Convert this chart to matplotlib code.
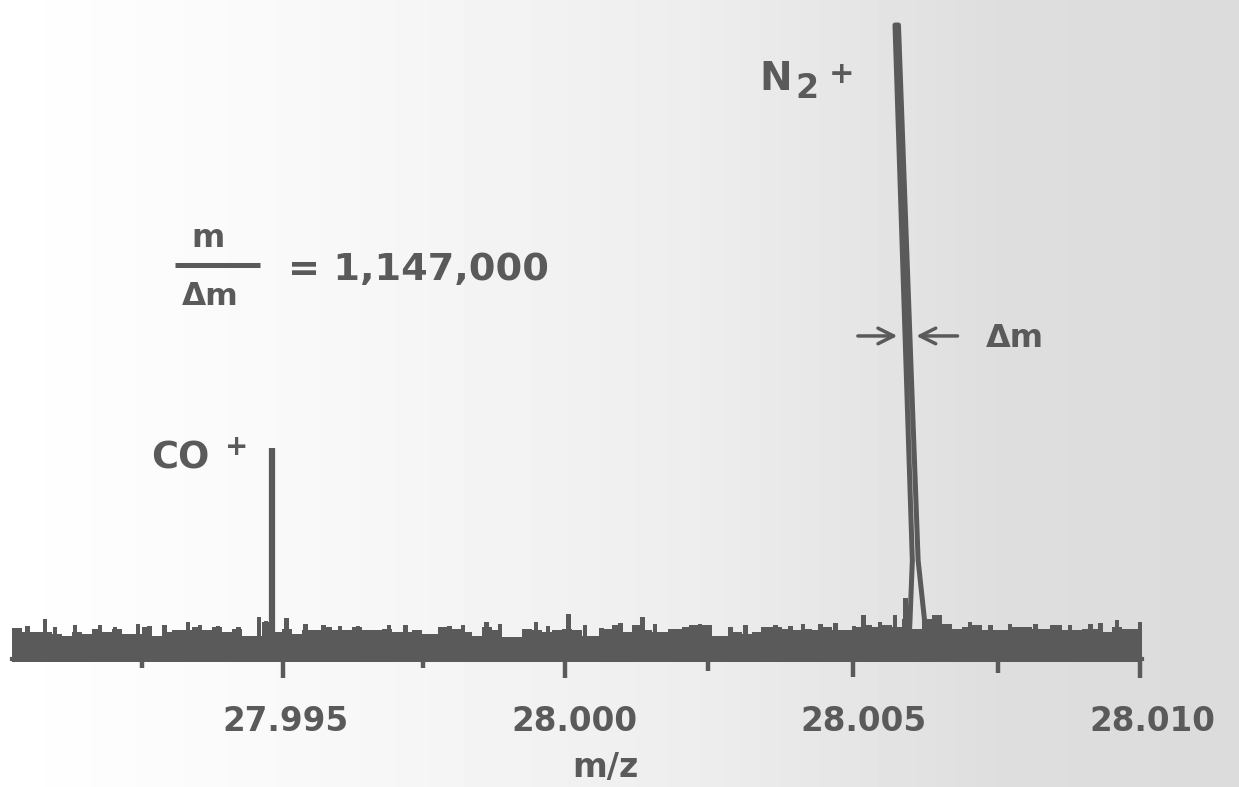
import numpy as np
import matplotlib
matplotlib.use("Agg")
import matplotlib.pyplot as plt

plt.rcParams["font.family"] = "DejaVu Sans"
plt.rcParams["font.weight"] = "bold"

INK = "#5a5a5a"

# m/z tick positions
tick_vals = [27.995, 28.000, 28.005, 28.010]
tick_labels = ["27.995", "28.000", "28.005", "28.010"]

# noise band: tops of the baseline noise (N2+ peak = 100), one value per grid cell
band_start = 27.99028
band_step = 0.000173
band = [4.6, 3.9, 3.9, 3.9, 3.6, 3.4, 3.9, 3.6, 4.4, 3.9,
        4.4, 3.6, 3.6, 4.7, 3.4, 3.9, 4.2, 4.2, 4.7, 4.2,
        4.7, 3.9, 4.4, 3.4, 3.4, 5.5, 3.9, 4.4, 3.6, 4.2,
        4.2, 4.7, 4.2, 4.2, 4.7, 4.2, 4.2, 4.4, 3.9, 3.9,
        4.2, 3.6, 3.6, 4.7, 4.4, 3.9, 3.4, 4.7, 4.2, 3.1,
        3.1, 4.4, 4.2, 3.9, 4.2, 4.4, 4.2, 3.4, 3.4, 4.4,
        5.0, 3.9, 5.0, 4.2, 3.9, 3.9, 4.4, 4.7, 5.0, 5.0,
        3.4, 3.4, 3.9, 3.6, 3.9, 4.7, 4.7, 4.4, 4.2, 4.4,
        4.2, 4.7, 4.2, 4.2, 4.7, 5.0, 4.7, 5.0, 4.7, 6.0,
        4.4, 6.0, 6.6, 5.2, 4.4, 4.7, 5.0, 4.2, 4.2, 4.2,
        4.7, 4.7, 4.4, 4.4, 5.0, 4.2, 4.2, 4.4, 4.4, 3.9,
        4.7, 4.4, 4.4]

# narrow noise spikes above the band
spike_mz = [27.99055, 27.99085, 27.99102, 27.99137, 27.99180, 27.99206,
            27.99246, 27.99266, 27.99292, 27.99332, 27.99353, 27.99384,
            27.99419, 27.99455, 27.99467, 27.99502, 27.99535, 27.99567,
            27.99595, 27.99626, 27.99680, 27.99708, 27.99768, 27.99785,
            27.99808, 27.99849, 27.99872, 27.99917, 27.99934, 27.99955,
            27.99990, 28.00019, 28.00047, 28.00080, 28.00118, 28.00140,
            28.00166, 28.00202, 28.00218, 28.00270, 28.00296, 28.00327,
            28.00348, 28.00374, 28.00396, 28.00426, 28.00452, 28.00484,
            28.00500, 28.00529, 28.00555, 28.00573, 28.00650, 28.00685,
            28.00720, 28.00754, 28.00798, 28.00827, 28.00858, 28.00893,
            28.00910, 28.00939, 28.00979]
spike_h = [4.9, 6.0, 4.8, 5.0, 5.0, 4.7, 5.3, 4.9, 5.0, 5.6, 5.1, 4.9,
           4.8, 6.3, 5.7, 6.2, 5.2, 5.0, 4.9, 4.9, 5.0, 5.0, 4.8, 4.9,
           5.0, 5.6, 5.2, 4.5, 5.6, 4.9, 6.8, 5.0, 4.6, 5.4, 6.3, 5.2,
           4.5, 5.0, 5.3, 4.8, 5.0, 4.7, 5.1, 4.9, 5.3, 5.2, 5.4, 4.9,
           6.6, 5.6, 6.6, 9.3, 5.0, 5.6, 5.0, 5.2, 5.3, 5.0, 5.0, 5.3,
           5.4, 5.9, 5.6]

# downward spikes below the baseline
dip_mz = [27.99253, 27.99497, 27.99739, 27.99984, 28.00232, 28.00483, 28.00734, 28.00979]
dip_depth = [-1.7, -3.3, -1.7, -3.3, -2.2, -3.2, -2.5, -3.3]

# CO+ peak
co_mz = 27.99478
co_top = 33.1

# N2+ peak trace
n2_mz = [28.00578, 28.00581, 28.00585, 28.00555, 28.00561,
         28.00595, 28.00606, 28.00612]
n2_int = [0, 5.9, 15.3, 100, 100, 15.3, 5.9, 1.1]

fig = plt.figure(figsize=(12.39, 7.87), dpi=100)

# faint scanner tint, darker toward the right
bg = fig.add_axes([0, 0, 1, 1], zorder=-1)
shade = np.interp(np.arange(1239), [0, 350, 700, 1000, 1239], [1.0, 0.97, 0.93, 0.87, 0.86])
bg.imshow(np.tile(shade, (10, 1)), cmap="gray", vmin=0, vmax=1, aspect="auto",
          extent=[0, 1, 0, 1])
bg.axis("off")

ax = fig.add_axes([0, 107 / 787, 1, 680 / 787])
ax.patch.set_alpha(0)
ax.set_xlim(27.99007, 28.01150)
ax.set_ylim(-3.64, 103.96)
for s in ax.spines.values():
    s.set_visible(False)
ax.set_yticks([])

# baseline noise
edges = band_start + band_step * np.arange(len(band) + 1)
ax.fill_between(edges, -0.8, band + [band[-1]], step="post", color=INK, lw=0)
ax.bar(spike_mz, spike_h, width=0.00008, bottom=0, color=INK, lw=0)
ax.vlines(dip_mz, dip_depth, 0, color=INK, lw=3.2)
ax.plot([edges[0], edges[-1]], [-0.3, -0.3], color=INK, lw=3)

# peaks
ax.plot([co_mz, co_mz], [0, co_top], color=INK, lw=4.5, solid_capstyle="butt")
ax.plot(n2_mz, n2_int, color=INK, lw=3.6, solid_joinstyle="round")

# axis labels
ax.set_xticks(tick_vals)
ax.set_xticklabels(tick_labels)
ax.tick_params(axis="x", length=0, pad=18, labelsize=23.5, labelcolor=INK)
for lab in ax.get_xticklabels():
    lab.set_fontweight("bold")
ax.set_xlabel("m/z", fontsize=24, fontweight="bold", color=INK)
ax.xaxis.set_label_coords(0.489, -0.104)

# annotations
ax.text(28.00320, 89.7, "N", fontsize=28, color=INK, ha="left", va="baseline")
ax.text(28.00382, 88.4, "2", fontsize=24, color=INK, ha="left", va="baseline")
ax.text(28.00462, 90.8, "+", fontsize=22, color=INK, ha="center", va="baseline")

ax.text(27.99268, 29.9, "CO", fontsize=26.5, color=INK, ha="left", va="baseline")
ax.text(27.99417, 32.0, "+", fontsize=20, color=INK, ha="center", va="baseline")

ax.text(27.99367, 64.9, "m", fontsize=23, color=INK, ha="center", va="baseline")
ax.plot([27.99310, 27.99457], [62.0, 62.0], color=INK, lw=3.6, solid_capstyle="butt")
ax.text(27.99370, 55.7, "Δm", fontsize=22.5, color=INK, ha="center", va="baseline")
ax.text(27.99505, 59.6, "= 1,147,000", fontsize=27.5, color=INK, ha="left", va="baseline")

arrow = dict(arrowstyle="->", color=INK, lw=2.5, mutation_scale=28)
ax.annotate("", xy=(28.00564, 50.8), xytext=(28.00486, 50.8), arrowprops=arrow)
ax.annotate("", xy=(28.00587, 50.8), xytext=(28.00668, 50.8), arrowprops=arrow)
ax.text(28.00713, 49.0, "Δm", fontsize=23, color=INK, ha="left", va="baseline")

fig.savefig("out.png", dpi=100)
